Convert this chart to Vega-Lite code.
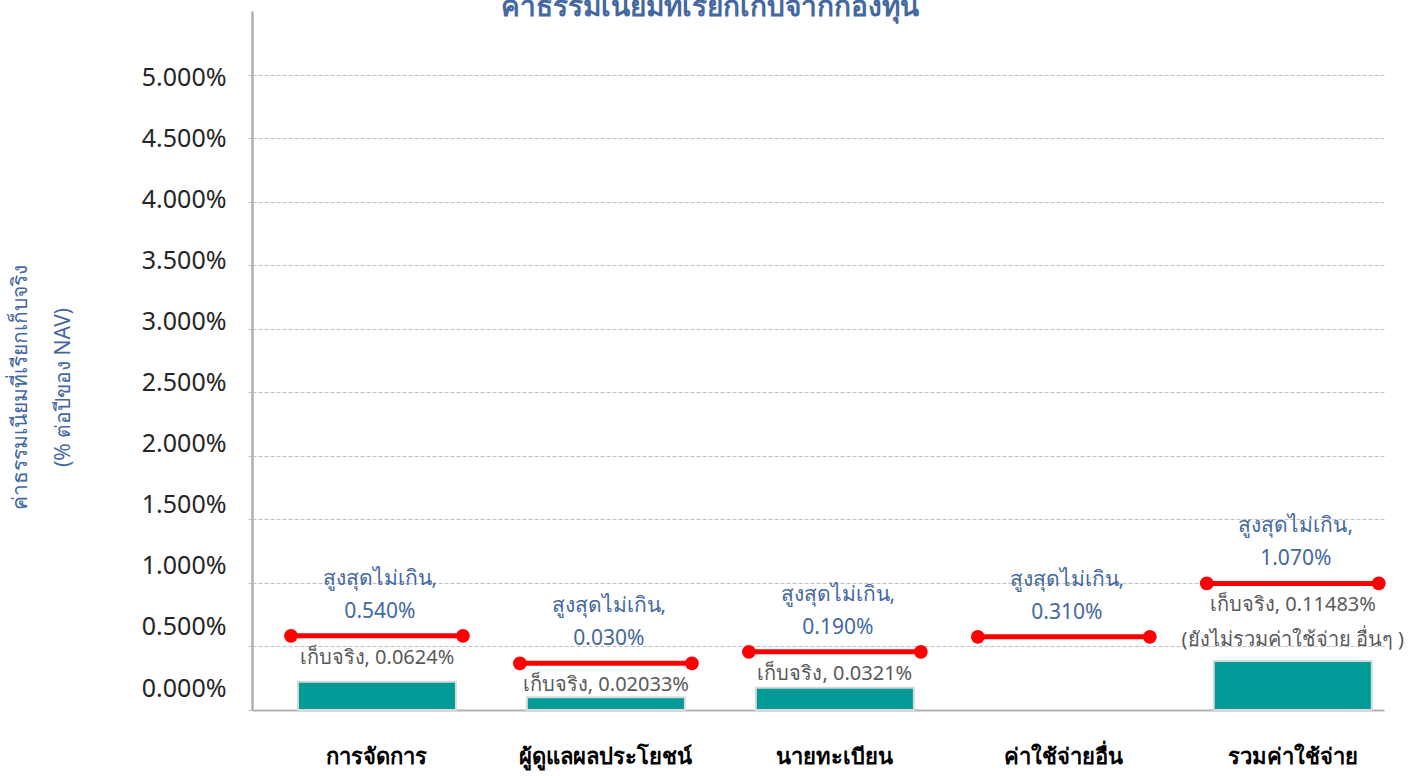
{
  "$schema": "https://vega.github.io/schema/vega-lite/v6.json",
  "width": 1132,
  "height": 699,
  "autosize": {"type": "none"},
  "padding": {"left": 252, "top": 11, "right": 34, "bottom": 66},
  "background": "white",
  "title": {
    "text": "ค่าธรรมเนียมที่เรียกเก็บจากกองทุน",
    "anchor": "middle",
    "frame": "group",
    "orient": "top",
    "offset": -11,
    "dx": -108,
    "fontSize": 28,
    "fontWeight": "bold",
    "color": "#44689f",
    "font": "Noto Sans"
  },
  "config": {
    "view": {"stroke": null},
    "font": "Noto Sans"
  },
  "data": {
    "values": [
      {"cat": "การจัดการ", "max": 0.584, "actual": 0.222, "maxLabel": "สูงสุดไม่เกิน,\n0.540%", "actualLabel": "เก็บจริง, 0.0624%"},
      {"cat": "ผู้ดูแลผลประโยชน์", "max": 0.367, "actual": 0.1, "maxLabel": "สูงสุดไม่เกิน,\n0.030%", "actualLabel": "เก็บจริง,  0.02033%"},
      {"cat": "นายทะเบียน", "max": 0.458, "actual": 0.175, "maxLabel": "สูงสุดไม่เกิน,\n0.190%", "actualLabel": "เก็บจริง, 0.0321%"},
      {"cat": "ค่าใช้จ่ายอื่น", "max": 0.576, "actual": null, "maxLabel": "สูงสุดไม่เกิน,\n0.310%", "actualLabel": ""},
      {"cat": "รวมค่าใช้จ่าย", "max": 0.996, "actual": 0.385, "maxLabel": "สูงสุดไม่เกิน,\n1.070%", "actualLabel": "เก็บจริง, 0.11483%\n(ยังไม่รวมค่าใช้จ่าย อื่นๆ )"}
    ]
  },
  "encoding": {
    "x": {
      "field": "cat",
      "type": "nominal",
      "sort": ["การจัดการ", "ผู้ดูแลผลประโยชน์", "นายทะเบียน", "ค่าใช้จ่ายอื่น", "รวมค่าใช้จ่าย"],
      "scale": {"paddingInner": 0.31, "paddingOuter": 0.127, "align": 0.79},
      "axis": {
        "title": null,
        "labelAngle": 0,
        "labelFontSize": 22,
        "labelFontWeight": "bold",
        "labelColor": "#000000",
        "labelPadding": 36,
        "labelBaseline": "top",
        "ticks": false,
        "domainColor": "#b3b3b3",
        "domainWidth": 2,
        "grid": false
      }
    }
  },
  "layer": [
    {
      "mark": {"type": "bar", "color": "#009a97", "stroke": "#d9d9d9", "strokeWidth": 2},
      "encoding": {
        "y": {
          "field": "actual",
          "type": "quantitative",
          "scale": {"domain": [0, 5.5], "nice": false},
          "axis": {
            "values": [0, 0.5, 1, 1.5, 2, 2.5, 3, 3.5, 4, 4.5, 5],
            "labelExpr": "format(datum.value, '.3f') + '%'",
            "labelFontSize": 25,
            "labelColor": "#262626",
            "labelPadding": 21,
            "labelOffset": {"expr": "-22 + 5 * datum.value"},
            "tickSize": 5,
            "tickColor": "#bfbfbf",
            "tickDash": [4, 2],
            "domainColor": "#b0b0b0",
            "domainWidth": 2.5,
            "gridColor": "#bfbfbf",
            "gridDash": [4, 2],
            "gridWidth": 1,
            "title": ["ค่าธรรมเนียมที่เรียกเก็บจริง", "(% ต่อปีของ NAV)"],
            "titleFontSize": 21,
            "titleFontWeight": "normal",
            "titleColor": "#44689f",
            "titleLineHeight": 43,
            "titleAngle": -90,
            "titleAlign": "center",
            "titleBaseline": "middle",
            "titleX": -232,
            "titleY": 376
          }
        }
      }
    },
    {
      "mark": {"type": "rule", "color": "#ff0000", "strokeWidth": 5, "strokeCap": "round", "xOffset": -86, "x2Offset": 86},
      "encoding": {
        "x2": {"field": "cat"},
        "y": {"field": "max", "type": "quantitative"}
      }
    },
    {
      "mark": {"type": "point", "filled": true, "color": "#ff0000", "opacity": 1, "size": 190, "xOffset": -86},
      "encoding": {
        "y": {"field": "max", "type": "quantitative"}
      }
    },
    {
      "mark": {"type": "point", "filled": true, "color": "#ff0000", "opacity": 1, "size": 190, "xOffset": 86},
      "encoding": {
        "y": {"field": "max", "type": "quantitative"}
      }
    },
    {
      "mark": {"type": "text", "baseline": "middle", "dy": -57, "dx": 3, "lineBreak": "\n", "lineHeight": 33, "fontSize": 21, "color": "#44689f"},
      "encoding": {
        "y": {"field": "max", "type": "quantitative"},
        "text": {"field": "maxLabel", "type": "nominal"}
      }
    },
    {
      "mark": {"type": "text", "baseline": "middle", "dy": 22, "lineBreak": "\n", "lineHeight": 35, "fontSize": 20, "color": "#595959"},
      "encoding": {
        "y": {"field": "max", "type": "quantitative"},
        "text": {"field": "actualLabel", "type": "nominal"}
      }
    }
  ]
}
